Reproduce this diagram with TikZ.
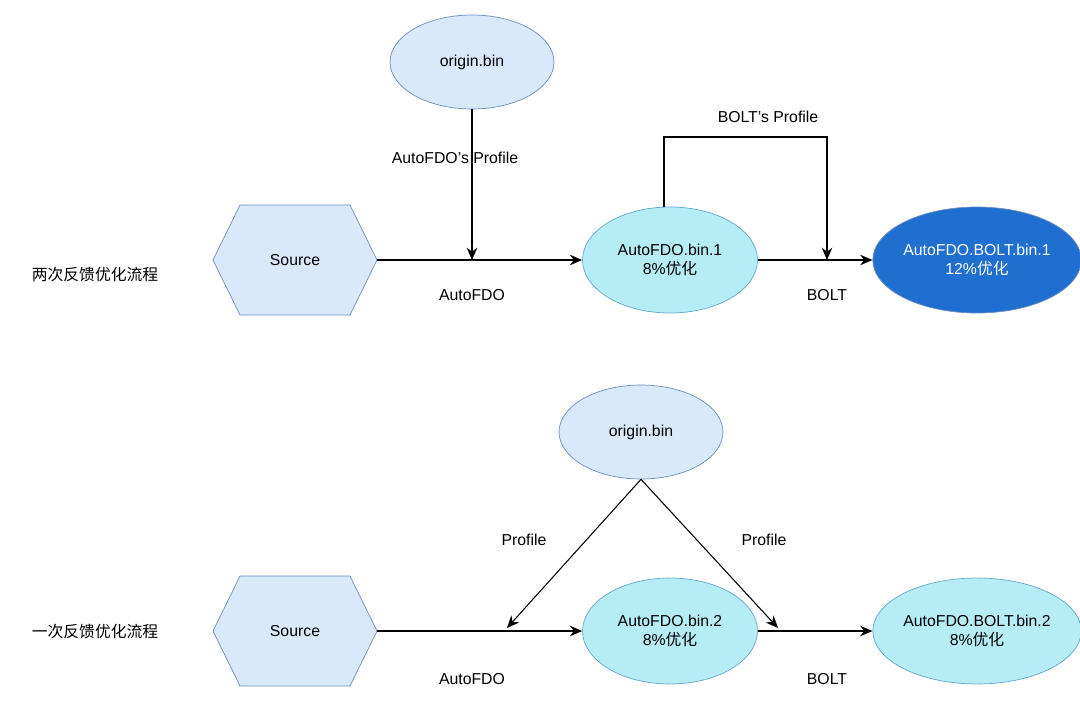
\documentclass[tikz,border=0pt]{standalone}
\usepackage{fontspec}
\setmainfont{Liberation Sans}
\newfontfamily\cjk{Noto Sans CJK SC}
\usetikzlibrary{shapes.geometric,arrows.meta}
\definecolor{lb}{HTML}{DAE8FC}
\definecolor{lbs}{HTML}{6C8EBF}
\definecolor{cy}{HTML}{B6ECF6}
\definecolor{cys}{HTML}{5FA8D0}
\definecolor{db}{HTML}{1F6FD0}
\begin{document}
\begin{tikzpicture}[x=0.02cm,y=-0.02cm,font=\fontsize{9}{10.5}\selectfont,
 el/.style={ellipse,draw=lbs,fill=lb,minimum width=164\pgflinewidth*0+3.28cm,minimum height=1.88cm,inner sep=0pt,align=center},
 ce/.style={ellipse,draw=cys,fill=cy,minimum width=3.5cm,minimum height=2.12cm,inner sep=0pt,align=center},
 hexbox/.style={minimum width=3.28cm,minimum height=2.2cm,inner sep=0pt},
 arr/.style={-{Stealth[length=7pt,width=6pt]},line width=0.6pt},
 ln/.style={line width=0.6pt}]
\useasboundingbox (0,0) rectangle (1080,711);
% top
\node[el] (o1) at (472,62) {origin.bin};
\node[hexbox] (s1) at (295,260) {Source};
\draw[draw=lbs,fill=lb] (213,260)--(240,205)--(350,205)--(377,260)--(350,315)--(240,315)--cycle;
\node at (295,260) {Source};
\node[ce] (a1) at (670,260) {AutoFDO.bin.1\\8\%{\cjk 优化}};
\node[ellipse,draw=lbs,fill=db,text=white,minimum width=3.4cm,minimum height=2.12cm,inner sep=0pt,align=center] (b1) at (977,260) {AutoFDO.BOLT.bin.1\\12\%{\cjk 优化}};
\coordinate (j1) at (472,260);
\coordinate (j2) at (827,260);
\draw[arr] (s1.east) -- (a1.west);
\draw[arr] (o1.south) -- (j1);
\draw[arr] (a1.east) -- (b1.west);
\draw[arr] (664,207) |- (827,137) -- (j2);
\node (l1) at (455,158) {AutoFDO's Profile};
\node (l2) at (472,295) {AutoFDO};
\node (l3) at (768,117) {BOLT's Profile};
\node (l4) at (827,295) {BOLT};
\node (t1) at (95,275) {\cjk 两次反馈优化流程};
% bottom
\node[el] (o2) at (641,432) {origin.bin};
\node[hexbox] (s2) at (295,631) {};
\draw[draw=lbs,fill=lb] (213,631)--(240,576)--(350,576)--(377,631)--(350,686)--(240,686)--cycle;
\node at (295,631) {Source};
\node[ce] (a2) at (670,631) {AutoFDO.bin.2\\8\%{\cjk 优化}};
\node[ce,minimum width=3.44cm] (b2) at (977,631) {AutoFDO.BOLT.bin.2\\8\%{\cjk 优化}};
\coordinate (k1) at (507,628);
\coordinate (k2) at (778,628);
\draw[arr] (s2.east) -- (a2.west);
\draw[arr] (a2.east) -- (b2.west);
\draw[arr] (o2.south) -- (k1);
\draw[arr] (o2.south) -- (k2);
\node (m1) at (524,540) {Profile};
\node (m2) at (764,540) {Profile};
\node (m3) at (472,679) {AutoFDO};
\node (m4) at (827,679) {BOLT};
\node (t2) at (95,632) {\cjk 一次反馈优化流程};
\end{tikzpicture}
\end{document}
